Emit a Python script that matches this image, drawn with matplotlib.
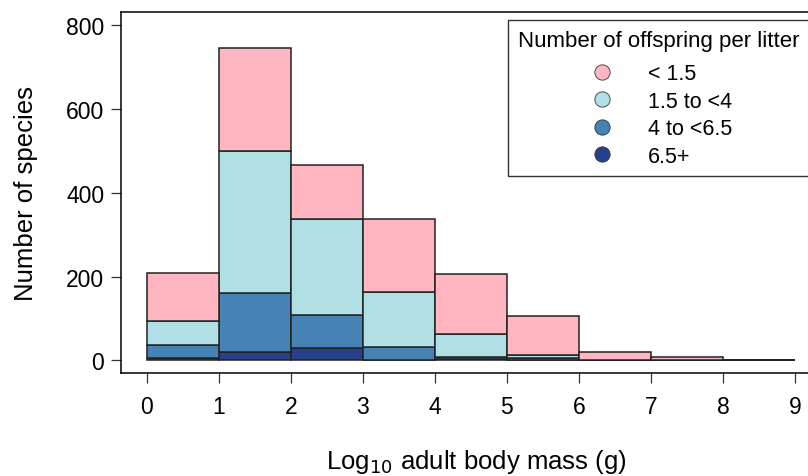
import numpy as np
import matplotlib
matplotlib.use("Agg")
import matplotlib.pyplot as plt
from matplotlib.lines import Line2D

plt.rcParams['font.family'] = ['Liberation Sans', 'DejaVu Sans']

# bin edges for log10 adult body mass
bin_left = [0, 1, 2, 3, 4, 5, 6, 7, 8]

# species counts per bin, by litter size class (stacked bottom to top)
n_65plus = [6, 20, 29, 2, 3, 1, 0, 0, 0]
n_4to65 = [30, 140, 80, 31, 5, 4, 0, 0, 0]
n_15to4 = [58, 340, 229, 130, 56, 9, 0, 0, 0]
n_lt15 = [114, 247, 129, 175, 143, 93, 20, 9, 1]

labels = ["< 1.5", "1.5 to <4", "4 to <6.5", "6.5+"]
colors = ["#FFB6C1", "#B0E0E6", "#4682B4", "#27408B"]

fig = plt.figure(figsize=(8.08, 4.77), dpi=100)
ax = fig.add_axes([121/808, 0.216, (831-121)/808, 0.7567])

# draw stacked bars, darkest at bottom
stack = [n_65plus, n_4to65, n_15to4, n_lt15]
stack_cols = [colors[3], colors[2], colors[1], colors[0]]
bottom = np.zeros(len(bin_left))
for vals, col in zip(stack, stack_cols):
    vals = np.array(vals)
    ax.bar(bin_left, vals, width=1, bottom=bottom, align='edge',
           color=col, edgecolor='#222222', linewidth=1.1)
    bottom += vals

ax.set_xlim(-0.36, 9.5)
ax.set_ylim(-30, 832)
ax.set_xticks(range(0, 10))
ax.set_yticks([0, 200, 400, 600, 800])
ax.tick_params(axis='both', labelsize=16.5, length=7, width=0.9, color='#333333')
ax.tick_params(axis='x', pad=9)
ax.tick_params(axis='y', pad=5)
for s in ax.spines.values():
    s.set_linewidth(1.1)

ax.set_xlabel("Log$_{10}$ adult body mass (g)", fontsize=18.5, labelpad=21)
ax.set_ylabel("Number of species", fontsize=18.5, labelpad=20)

handles = [Line2D([], [], marker='o', linestyle='none', markersize=11,
                  markerfacecolor=c, markeredgecolor='#333333', markeredgewidth=0.6)
           for c in colors]
leg = ax.legend(handles, labels, title="Number of offspring per litter",
                loc='upper left', bbox_to_anchor=(508/808, 1 - 21/477),
                bbox_transform=fig.transFigure, fontsize=15.5, title_fontsize=16,
                frameon=True, fancybox=False, handlelength=1.6, handletextpad=1.3,
                labelspacing=0.3, borderpad=0.45, borderaxespad=0)
leg.get_frame().set_edgecolor('black')
leg.get_frame().set_linewidth(1.0)
leg._legend_box.sep = 9

fig.savefig("out.png", dpi=100)
